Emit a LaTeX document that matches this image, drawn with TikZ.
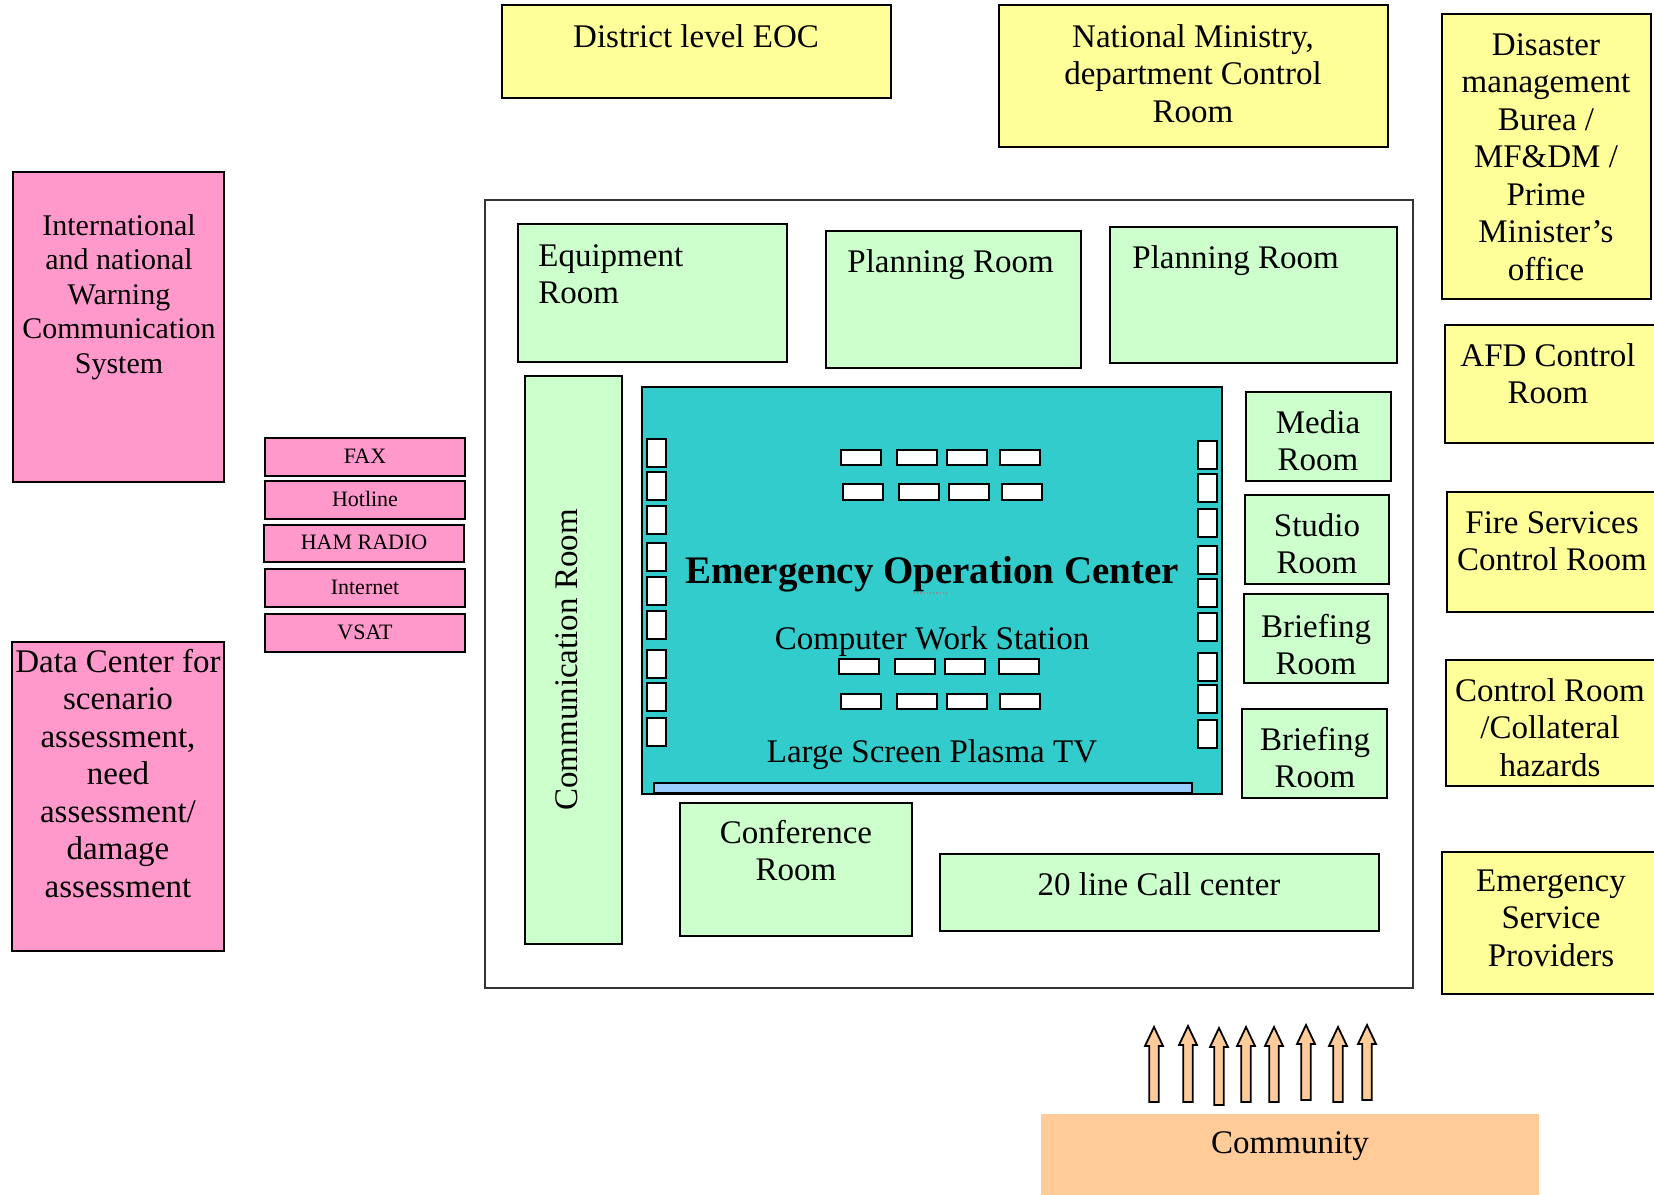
\documentclass[tikz,border=0pt]{standalone}
\usepackage{fontspec}
\setmainfont{Liberation Serif}
\usetikzlibrary{fit}

\definecolor{ylw}{HTML}{FFFF99}
\definecolor{pnk}{HTML}{FF99CC}
\definecolor{grn}{HTML}{CCFFCC}
\definecolor{teal}{HTML}{33CCCC}
\definecolor{tvbar}{HTML}{99CCFF}
\definecolor{peach}{HTML}{FFCC99}

% multi-line labels are placed by the baseline of their last line
\tikzset{
  box/.style={draw=black, line width=1.1pt, inner sep=0pt},
  frame/.style={draw=black!80, line width=0.7pt, inner sep=0pt},
  txt/.style={font=\fontsize{16.5}{18.75}\selectfont, inner sep=0pt, align=center, anchor=base},
  txtl/.style={font=\fontsize{16.5}{18.75}\selectfont, inner sep=0pt, align=left, anchor=base west},
  txts/.style={font=\fontsize{15}{17.25}\selectfont, inner sep=0pt, align=center, anchor=base},
  tiny/.style={font=\fontsize{11}{13}\selectfont, inner sep=0pt, anchor=base},
  desk/.style={draw=black, fill=white, line width=0.9pt},
  uparrow/.style={draw=black, fill=peach, line width=0.9pt, line join=miter},
}

\begin{document}
\begin{tikzpicture}[x=0.5pt, y=-0.5pt]
\useasboundingbox (0,0) rectangle (1654,1194);

% ---------- outside agencies (yellow) ----------
\node[box, fill=ylw, fit={(502,5) (891,98)}] (district) {};
\node[txt] (districtT) at (696,47) {District level EOC};

\node[box, fill=ylw, fit={(999,5) (1388,147)}] (ministry) {};
\node[txt] (ministryT) at (1193,122) {National Ministry,\\department Control\\Room};

\node[box, fill=ylw, fit={(1442,14) (1651,299)}] (dmb) {};
\node[txt] (dmbT) at (1546,280) {Disaster\\management\\Burea /\\MF\&DM /\\Prime\\Minister’s\\office};

\node[box, fill=ylw, fit={(1445,325) (1660,443)}] (afd) {};
\node[txt] (afdT) at (1548,403.5) {AFD Control\\Room};

\node[box, fill=ylw, fit={(1447,492) (1660,612)}] (fire) {};
\node[txt] (fireT) at (1552,570.5) {Fire Services\\Control Room};

\node[box, fill=ylw, fit={(1446,660) (1660,786)}] (collat) {};
\node[txt] (collatT) at (1550,776) {Control Room\\/Collateral\\hazards};

\node[box, fill=ylw, fit={(1442,852) (1660,994)}] (esp) {};
\node[txt] (espT) at (1551,966) {Emergency\\Service\\Providers};

% ---------- communication systems (pink) ----------
\node[box, fill=pnk, fit={(13,172) (224,482)}] (intl) {};
\node[txts] (intlT) at (119,373) {International\\and national\\Warning\\Communication\\System};

\node[box, fill=pnk, fit={(12,642) (224,951)}] (data) {};
\node[txt] (dataT) at (118,897) {Data Center for\\scenario\\assessment,\\need\\assessment/\\damage\\assessment};

\node[box, fill=pnk, fit={(265,438) (465,476)}] (fax) {};
\node[tiny] (faxT) at (365,463) {FAX};
\node[box, fill=pnk, fit={(265,481) (465,519)}] (hotline) {};
\node[tiny] (hotlineT) at (365,506) {Hotline};
\node[box, fill=pnk, fit={(264,525) (464,562)}] (ham) {};
\node[tiny] (hamT) at (364,549) {HAM RADIO};
\node[box, fill=pnk, fit={(265,569) (465,607)}] (internet) {};
\node[tiny] (internetT) at (365,594) {Internet};
\node[box, fill=pnk, fit={(265,614) (465,652)}] (vsat) {};
\node[tiny] (vsatT) at (365,639) {VSAT};

% ---------- EOC building ----------
\node[frame, fit={(485,200) (1413,988)}] (building) {};

\node[box, fill=grn, fit={(518,224) (787,362)}] (equip) {};
\node[txtl] (equipT) at (538,303.5) {Equipment\\Room};

\node[box, fill=grn, fit={(826,231) (1081,368)}] (plan1) {};
\node[txtl] (plan1T) at (847,272) {Planning Room};

\node[box, fill=grn, fit={(1110,227) (1397,363)}] (plan2) {};
\node[txtl] (plan2T) at (1132,268) {Planning Room};

\node[box, fill=grn, fit={(525,376) (622,944)}] (comm) {};
\node[font=\fontsize{16.5}{18.75}\selectfont, inner sep=0pt, rotate=90] (commT) at (567,660) {Communication Room};

\node[box, fill=grn, fit={(1246,392) (1391,481)}] (media) {};
\node[txt] (mediaT) at (1318,470.5) {Media\\Room};
\node[box, fill=grn, fit={(1245,495) (1389,584)}] (studio) {};
\node[txt] (studioT) at (1317,573.5) {Studio\\Room};
\node[box, fill=grn, fit={(1244,594) (1388,683)}] (brief1) {};
\node[txt] (brief1T) at (1316,674.5) {Briefing\\Room};
\node[box, fill=grn, fit={(1242,709) (1387,798)}] (brief2) {};
\node[txt] (brief2T) at (1315,787.5) {Briefing\\Room};

\node[box, fill=grn, fit={(680,803) (912,936)}] (conf) {};
\node[txt] (confT) at (796,880.5) {Conference\\Room};

\node[box, fill=grn, fit={(940,854) (1379,931)}] (call) {};
\node[txt] (callT) at (1159,895) {20 line Call center};

% ---------- operations hall ----------
\node[box, fill=teal, fit={(642,387) (1222,794)}] (eoc) {};
\node[box, fill=tvbar, line width=0.9pt, fit={(654,783) (1192,793)}] (tv) {};

% workstation desks
\foreach \y in {450,694}{
  \foreach \x in {841,897,947,1000}{
    \draw[desk] (\x,\y) rectangle ++(40,15);
  }
}
\foreach \x in {843,899,949,1002}{
  \draw[desk] (\x,484) rectangle ++(40,16);
}
\foreach \x in {839,895,945,999}{
  \draw[desk] (\x,659) rectangle ++(40,15);
}
% side consoles
\foreach \y in {439,472,506,543,577,611,650,683,718}{
  \draw[desk] (647,\y) rectangle ++(19,28);
}
\foreach \y in {441,474,509,546,579,613,653,685,720}{
  \draw[desk] (1198,\y) rectangle ++(19,28);
}

\node[font=\fontsize{19.5}{22}\selectfont\bfseries, inner sep=0pt, anchor=base] (eocT) at (932,583) {Emergency Operation Center};
\draw[black!45, line width=0.6pt, densely dotted] (914,593) -- (949,593);
\node[txt] (cwsT) at (932,649) {Computer Work Station};
\node[txt] (tvT) at (932,762) {Large Screen Plasma TV};

% ---------- community ----------
\node[fill=peach, inner sep=0pt, fit={(1041,1114) (1539,1200)}] (community) {};
\node[txt] (communityT) at (1290,1153) {Community};

\foreach \x/\t/\b in {1154/1027/1102, 1188/1026/1102, 1219/1028/1105, 1246/1027/1102,
                      1274/1027/1102, 1306/1025/1100, 1338/1027/1102, 1367/1025/1100}{
  \draw[uparrow] (\x-4.7,\b) -- (\x-4.7,\t+19) -- (\x-9,\t+19) -- (\x,\t)
                 -- (\x+9,\t+19) -- (\x+4.7,\t+19) -- (\x+4.7,\b) -- cycle;
}
\end{tikzpicture}
\end{document}
